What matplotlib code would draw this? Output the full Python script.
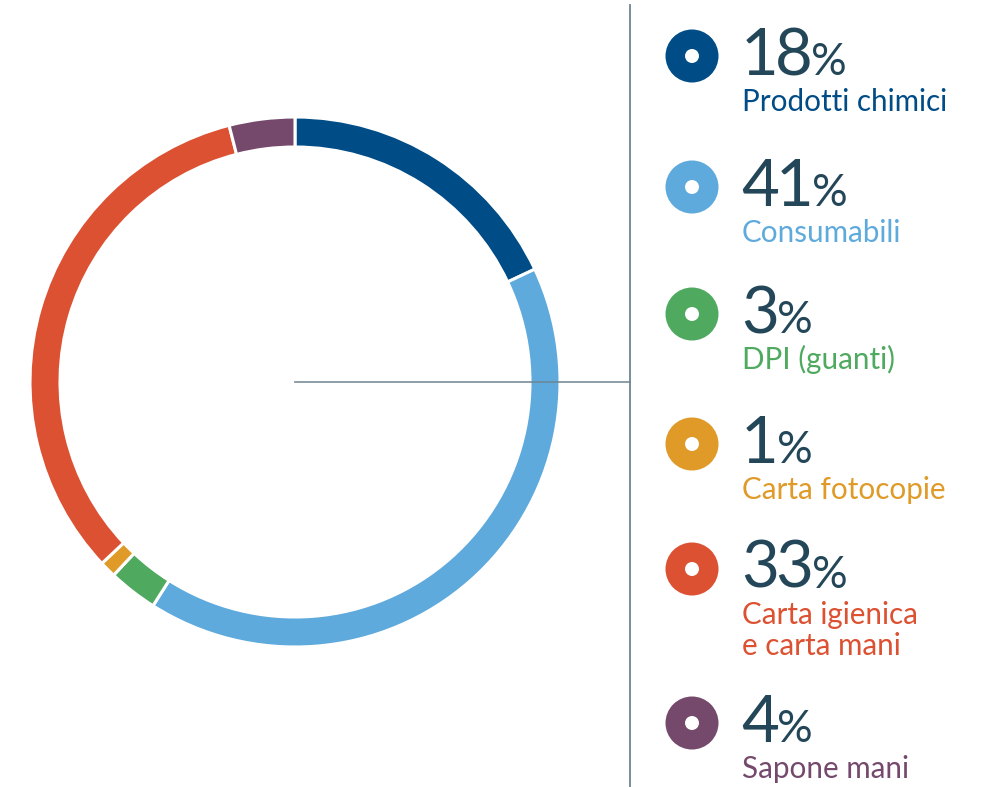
import matplotlib
matplotlib.use("Agg")
import matplotlib.pyplot as plt
from matplotlib.patches import Circle

categories = ["Prodotti chimici", "Consumabili", "DPI (guanti)", "Carta fotocopie",
              "Carta igienica\ne carta mani", "Sapone mani"]
values = [18, 41, 3, 1, 33, 4]
colors = ["#004c86", "#5eaadc", "#4faa5f", "#df9a27", "#dc5131", "#75496b"]
num_baseline = [75, 206, 333, 463, 588, 742]   # legend rows (pixels from top)

W, H = 982, 787
fig = plt.figure(figsize=(W / 100, H / 100), dpi=100)
ax = fig.add_axes([0, 0, 1, 1])

FONT = "Lato"
num_color = "#234759"
line_color = "#6d8593"

cx, cy = 295, H - 382
R, ring = 265, 30
ax.pie(values, colors=colors, startangle=90, counterclock=False,
       center=(cx, cy), radius=R,
       wedgeprops=dict(width=ring, edgecolor="white", linewidth=2.2))

ax.set_xlim(0, W)
ax.set_ylim(0, H)
ax.set_aspect("equal")
ax.axis("off")

# guide lines
ax.plot([630, 630], [0, H - 5], color=line_color, lw=1.3, zorder=5)
ax.plot([cx, 630], [cy, cy], color=line_color, lw=1.3, alpha=0.85, zorder=5)

fig.canvas.draw()
renderer = fig.canvas.get_renderer()
inv = ax.transData.inverted()

TRACK = -3.5  # tight tracking of the big figures, in pixels

for val, lab, col, yb in zip(values, categories, colors, num_baseline):
    y = H - yb
    ax.add_patch(Circle((692, y + 19), 26.5, color=col, lw=0, zorder=6))
    ax.add_patch(Circle((692, y + 19), 7, color="white", lw=0, zorder=7))
    x = 741
    for ch in str(val):
        t = ax.text(x, y, ch, fontsize=47, family=FONT, color=num_color,
                    va="baseline", ha="left")
        bb = t.get_window_extent(renderer=renderer)
        x = inv.transform((bb.x1, 0))[0] + TRACK
    ax.text(x + 2, y, "%", fontsize=32, family=FONT, color=num_color,
            va="baseline", ha="left")
    for i, line in enumerate(lab.split("\n")):
        ax.text(742, y - 36 - 31 * i, line, fontsize=21.3, family=FONT, color=col,
                va="baseline", ha="left")

fig.savefig("out.png", dpi=100)
